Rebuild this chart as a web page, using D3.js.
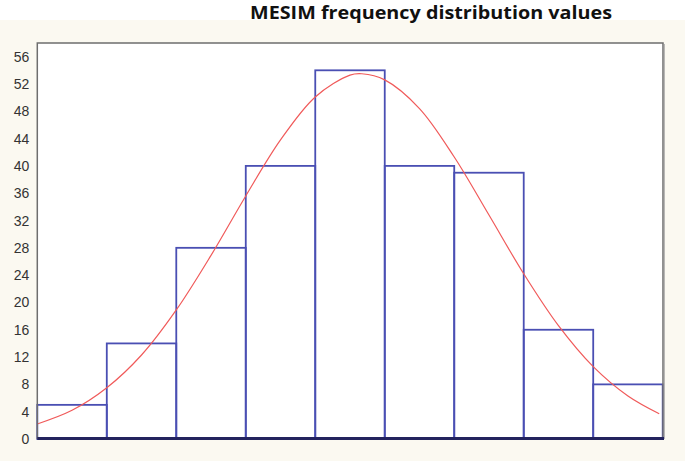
<!DOCTYPE html>
<html>
<head>
<meta charset="utf-8">
<script src="https://cdn.jsdelivr.net/npm/d3@7"></script>
<style>
  html, body { margin: 0; padding: 0; background: #fff; }
  svg { display: block; }
</style>
</head>
<body>
<svg id="chart" width="685" height="461"></svg>
<script>
// histogram bins (bin index 0..8) and counts
const bins = [0, 1, 2, 3, 4, 5, 6, 7, 8];
const counts = [5, 14, 28, 40, 54, 40, 39, 16, 8];

// fitted curve at x positions in bin units
const curveX = [0, 0.5, 1, 1.5, 2, 2.5, 3, 3.5, 4, 4.5, 4.67, 5, 5.5, 6, 6.5, 7, 7.5, 8, 8.5, 8.95];
const curveY = [2.2, 4.2, 7.5, 12.3, 18.9, 26.9, 35.6, 43.8, 50.1, 53.3, 53.5, 52.6, 48.4, 41.3, 32.8, 24.2, 16.6, 10.6, 6.3, 3.7];

const yTicks = d3.range(0, 57, 4);
const title = 'MESIM frequency distribution values';

const svg = d3.select('#chart');
const W = 685, H = 461;
const plot = {left: 37.3, right: 663, top: 43, bottom: 439};

const x = d3.scaleLinear().domain([0, 9]).range([plot.left, plot.right - 0.3]);
const y = d3.scaleLinear().domain([0, 58]).range([plot.bottom, plot.top]);

// backgrounds
svg.append('rect').attr('x', 0).attr('y', 0).attr('width', W).attr('height', H).attr('fill', '#fbf9f1');
svg.append('rect').attr('x', 0).attr('y', 0).attr('width', W).attr('height', 20).attr('fill', '#ffffff');
svg.append('rect')
  .attr('x', plot.left).attr('y', plot.top)
  .attr('width', plot.right - plot.left).attr('height', plot.bottom - plot.top)
  .attr('fill', '#ffffff');

// title
svg.append('text')
  .attr('x', 431).attr('y', 19)
  .attr('text-anchor', 'middle')
  .attr('font-family', 'Open Sans, sans-serif')
  .attr('font-weight', 'bold')
  .attr('font-size', 17.5)
  .attr('textLength', 362)
  .attr('lengthAdjust', 'spacingAndGlyphs')
  .attr('fill', '#111')
  .text(title);

// y axis labels
const yAxis = d3.axisLeft(y).tickValues(yTicks).tickSize(0).tickPadding(8);
const gy = svg.append('g').attr('transform', `translate(${plot.left},0)`).call(yAxis);
gy.select('.domain').remove();
gy.selectAll('text')
  .attr('font-family', 'Liberation Sans Narrow, Liberation Sans, sans-serif')
  .attr('font-size', 14)
  .attr('fill', '#333');

// bars
svg.append('g').selectAll('rect')
  .data(bins)
  .join('rect')
  .attr('x', (d) => x(d))
  .attr('y', (d, i) => y(counts[i]))
  .attr('width', (d) => x(d + 1) - x(d))
  .attr('height', (d, i) => y(0) - y(counts[i]))
  .attr('fill', 'none')
  .attr('stroke', '#4a4fb3')
  .attr('stroke-width', 1.8);

// curve
const pts = curveX.map((v, i) => [v, curveY[i]]);
svg.append('path')
  .datum(pts)
  .attr('d', d3.line().x((d) => x(d[0])).y((d) => y(d[1])).curve(d3.curveCatmullRom))
  .attr('fill', 'none')
  .attr('stroke', '#f05a5a')
  .attr('stroke-width', 1.2);

// plot frame
svg.append('path')
  .attr('d', `M${plot.left},${plot.bottom}V${plot.top}H${plot.right}V${plot.bottom}`)
  .attr('fill', 'none')
  .attr('stroke', '#6e6e6e')
  .attr('stroke-width', 1.5);
svg.append('line')
  .attr('x1', plot.right + 1.2).attr('x2', plot.right + 1.2)
  .attr('y1', plot.top + 1).attr('y2', plot.bottom)
  .attr('stroke', '#9a9a9a').attr('stroke-width', 1);

// baseline
svg.append('line')
  .attr('x1', plot.left).attr('x2', plot.right + 1)
  .attr('y1', y(0) - 0.5).attr('y2', y(0) - 0.5)
  .attr('stroke', '#23235e')
  .attr('stroke-width', 3);
</script>
</body>
</html>
